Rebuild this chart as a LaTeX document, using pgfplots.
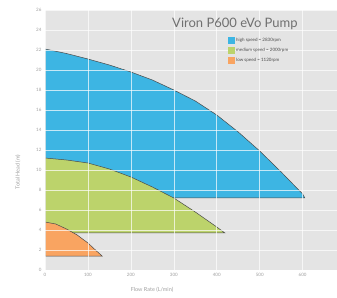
\documentclass[border=0pt]{standalone}
\usepackage{fontspec}
\setmainfont{Lato}
\usepackage{pgfplots}
\pgfplotsset{compat=1.18}
\definecolor{hiblue}{HTML}{3DB5E3}
\definecolor{medgreen}{HTML}{BCD36B}
\definecolor{loworange}{HTML}{F9A461}
\definecolor{bggray}{HTML}{E4E4E4}
\definecolor{edgec}{HTML}{4A4A4A}
\definecolor{ticklab}{HTML}{A0A0A0}
\definecolor{titlec}{HTML}{707070}
\begin{document}
\begin{tikzpicture}[x=1pt,y=1pt]
\path[fill=white, use as bounding box] (0,0) rectangle (337,297);
\begin{axis}[at={(45pt,27pt)}, anchor=south west, scale only axis,
  width=292pt, height=260pt,
  xmin=0, xmax=680, ymin=0, ymax=26,
  axis background/.style={fill=bggray},
  axis line style={draw=none},
  tick style={draw=none},
  xtick={0,100,...,600}, ytick={0,2,...,26},
  grid=major, major grid style={white, line width=0.6pt, opacity=0.7},
  axis on top,
  ticklabel style={font=\fontsize{4.5}{5}\selectfont, text=ticklab},
  /pgf/number format/assume math mode=true,
  legend style={at={(axis cs:425,23.4)}, anchor=north west, draw=none, fill=none,
    font=\fontsize{4.5}{5}\selectfont, text=edgec, row sep=2.5pt,
    inner sep=0pt, nodes={inner sep=1.5pt}},
  legend cell align=left,
  legend image code/.code={\path[#1, draw=none] (0pt,-3.5pt) rectangle (7pt,3.5pt);},
]
\addplot[fill=hiblue, draw=edgec, line width=0.5pt] coordinates {
 (0,7.2) (0,22.1) (50,21.65) (100,21.1) (150,20.5) (200,19.8) (250,19.0) (300,18.0)
 (350,16.9) (400,15.5) (450,13.8) (500,11.9) (550,9.8) (600,7.6) (605,7.2)} -- cycle;
\addlegendentry{high speed = 2830rpm}
\addplot[fill=medgreen, draw=edgec, line width=0.5pt] coordinates {
 (0,3.7) (0,11.2) (50,11.0) (100,10.7) (150,10.1) (200,9.3) (250,8.3)
 (300,7.2) (350,5.8) (400,4.3) (419,3.7)} -- cycle;
\addlegendentry{medium speed = 2000rpm}
\addplot[fill=loworange, draw=edgec, line width=0.5pt] coordinates {
 (0,1.4) (0,4.8) (25,4.6) (50,4.1) (75,3.5) (100,2.7) (120,1.9) (133,1.4)} -- cycle;
\addlegendentry{low speed = 1120rpm}
\end{axis}
\node[anchor=west, font=\fontsize{13}{14}\selectfont, text=titlec, inner sep=0pt] at (172,273) {Viron P600 eVo Pump};
\node[font=\fontsize{5.5}{6}\selectfont, text=ticklab] at (152,7) {Flow Rate (L/min)};
\node[rotate=90, font=\fontsize{5.5}{6}\selectfont, text=ticklab] at (18,125) {Total Head (m)};
\end{tikzpicture}
\end{document}
